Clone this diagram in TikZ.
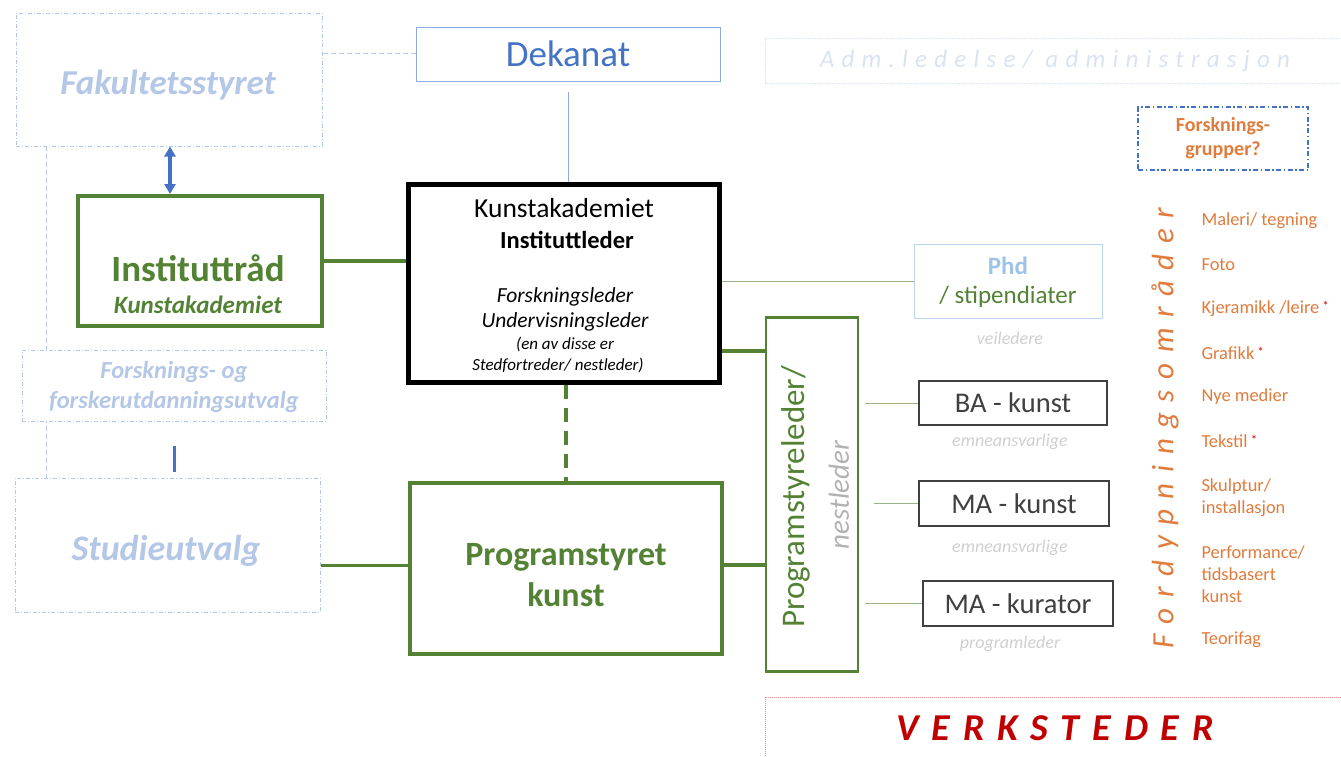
\documentclass[tikz,border=0pt]{standalone}
\usepackage{fontspec}
\setmainfont{Carlito}
\usetikzlibrary{arrows.meta}
\definecolor{kgreen}{HTML}{548235}
\definecolor{kblue}{HTML}{4472C4}
\definecolor{paleblue}{HTML}{B4C7E7}
\definecolor{faintblue}{HTML}{DAE3F3}
\definecolor{phdblue}{HTML}{9DC3E6}
\definecolor{korange}{HTML}{E07B3C}
\definecolor{kred}{HTML}{C00000}
\definecolor{pinkred}{HTML}{F08A96}
\definecolor{subgray}{HTML}{CFCFCF}
\newcommand{\fs}[1]{\fontsize{#1}{1.2\dimexpr#1pt\relax}\selectfont}
\newcommand{\redstar}{\,\textcolor{red!80!black}{\raisebox{0.35ex}{\fs{13}*}}}
\begin{document}
\begin{tikzpicture}[x=1pt,y=-1pt,
    box/.style={draw,rectangle,inner sep=0pt,align=center},
    palebox/.style={box,paleblue,line width=1pt,dash pattern=on 4pt off 2pt on 1pt off 2pt,fill=white},
    paletext/.style={paleblue,align=center,font=\fs{#1}\bfseries\itshape},
    greenbox/.style={box,kgreen,line width=4pt},
    progbox/.style={box,black!75,line width=1.2pt,font=\fs{28.5}},
    sublabel/.style={subgray,font=\fs{18}\itshape},
    fordyp/.style={korange,anchor=west,align=left,font=\fs{18.4}}]
    \useasboundingbox (0,0) rectangle (1341,756);
    \draw[paleblue,line width=1pt,dash pattern=on 5pt off 3pt] (46,146) -- (46,478);
    \node[palebox,minimum width=306pt,minimum height=133pt] (fak) at (169,79.5) {};
    \node[paletext=35] (faktxt) at (168,85) {Fakultetsstyret};
    \node[box,kblue!60,line width=0.8pt,minimum width=304pt,minimum height=54pt,text=kblue,font=\fs{37}] (dek) at (568,54) {Dekanat};
    \node[box,faintblue,line width=0.8pt,densely dotted,minimum width=580pt,minimum height=45pt,text=faintblue,font=\fs{25}\itshape\addfontfeature{LetterSpace=29}] (adm) at (1055,60.5) {Adm.ledelse/ administrasjon};
    \node[box,kblue,line width=1.3pt,dash pattern=on 5pt off 2.5pt on 1.5pt off 2.5pt,minimum width=170pt,minimum height=63pt,text=korange,font=\fs{20}\bfseries] (fgr) at (1223,138.5) {Forsknings-\\grupper?};
    \node[greenbox,minimum width=244pt,minimum height=130pt] (inst) at (200,261) {};
    \node[kgreen,font=\fs{37}\bfseries] (insttxt) at (198,268) {Instituttråd};
    \node[kgreen,font=\fs{25}\bfseries\itshape] (instsub) at (198,305) {Kunstakademiet};
    \node[box,black,line width=5pt,minimum width=311pt,minimum height=198pt] (kunst) at (563.5,283) {};
    \node[font=\fs{27.5}] (k1) at (564,208) {Kunstakademiet};
    \node[font=\fs{24.5}\bfseries] (k2) at (567,240) {Instituttleder};
    \node[font=\fs{21.5}\itshape] (k3) at (565,297) {Forskningsleder};
    \node[font=\fs{21.5}\itshape] (k4) at (565,322) {Undervisningsleder};
    \node[font=\fs{17}\itshape] (k5) at (565,344) {(en av disse er};
    \node[font=\fs{17}\itshape] (k6) at (558,365) {Stedfortreder/ nestleder)};
    \node[box,phdblue!70,line width=1pt,minimum width=188pt,minimum height=74pt] (phd) at (1008,281) {};
    \node[phdblue,font=\fs{25}\bfseries] (phd1) at (1008,266) {Phd};
    \node[kgreen,font=\fs{25}] (phd2) at (1008,297) {/ stipendiater};
    \node[palebox,minimum width=304pt,minimum height=71pt] (futv) at (174,385.5) {};
    \node[paletext=24.5] (futvtxt) at (174,387) {Forsknings- og\\forskerutdanningsutvalg};
    \node[box,kgreen,line width=2.5pt,minimum width=92pt,minimum height=354pt] (psl) at (812,494.5) {};
    \node[kgreen,rotate=90,font=\fs{33}] (psl1) at (796,497) {Programstyreleder/};
    \node[black!30,rotate=90,font=\fs{29}\itshape] (psl2) at (839,495) {nestleder};
    \node[progbox,minimum width=188pt,minimum height=44pt] (ba) at (1013,403) {BA - kunst};
    \node[progbox,minimum width=190pt,minimum height=45pt] (mak) at (1014,503.5) {MA - kunst};
    \node[progbox,minimum width=190pt,minimum height=45pt] (makur) at (1018,603.5) {MA - kurator};
    \node[palebox,minimum width=305pt,minimum height=134pt] (stud) at (167.5,545) {};
    \node[paletext=36] (studtxt) at (166,551) {Studieutvalg};
    \node[greenbox,minimum width=312pt,minimum height=171pt] (prog) at (566,568.5) {};
    \node[kgreen,align=center,font=\fs{34}\bfseries] (progtxt) at (566,575) {Programstyret\\kunst};
    \node[box,pinkred,line width=1pt,densely dotted,minimum width=580pt,minimum height=62pt,text=kred,font=\fs{38}\bfseries\itshape\addfontfeature{LetterSpace=34}] (verk) at (1055,728) {VERKSTEDER};
    \node[sublabel] (vei) at (1010,338) {veiledere};
    \node[sublabel] (emba) at (1010,442) {emneansvarlige};
    \node[sublabel] (emma) at (1010,548) {emneansvarlige};
    \node[sublabel] (prl) at (1010,644) {programleder};
    \node[korange,rotate=90,font=\fs{31}\itshape\addfontfeature{LetterSpace=34}] (fomr) at (1165,428) {Fordypningsområder};
    \node[fordyp] (i1) at (1198,221) {Maleri/ tegning};
    \node[fordyp] (i2) at (1198,265) {Foto};
    \node[fordyp] (i3) at (1198,309) {Kjeramikk /leire\redstar};
    \node[fordyp] (i4) at (1198,353) {Grafikk\redstar};
    \node[fordyp] (i5) at (1198,397) {Nye medier};
    \node[fordyp] (i6) at (1198,441) {Tekstil\redstar};
    \node[fordyp] (i7) at (1198,497.5) {Skulptur/\\installasjon};
    \node[fordyp] (i8) at (1198,574) {Performance/\\tidsbasert\\kunst};
    \node[fordyp] (i9) at (1198,640) {Teorifag};
    \draw[paleblue,line width=1pt,dash pattern=on 5pt off 3pt] (fak.east |- 0,53) -- (dek.west |- 0,53);
    \draw[kblue!60,line width=0.8pt,shorten <=11pt] (dek.south) -- (dek.south |- kunst.north);
    \draw[<->,>={Triangle[length=10pt,width=11pt]},kblue,line width=3.5pt] (fak.south -| 170,0) -- (inst.north -| 170,0);
    \draw[kgreen,line width=4pt] (inst.east) -- (inst.east -| kunst.west);
    \draw[kgreen,line width=4pt,dash pattern=on 14pt off 9pt] (kunst.south -| 566,0) -- (prog.north -| 566,0);
    \draw[kblue,line width=3pt,shorten <=24pt,shorten >=6pt] (futv.south) -- (stud.north -| futv.south);
    \draw[kgreen,line width=3pt] (stud.east |- 0,565) -- (prog.west |- 0,565);
    \draw[kgreen!60,line width=1pt] (kunst.east |- phd.west) -- (phd.west);
    \draw[kgreen,line width=4pt] (kunst.east |- 0,351) -- (psl.west |- 0,351);
    \draw[kgreen,line width=4pt] (prog.east |- 0,565) -- (psl.west |- 0,565);
    \draw[kgreen!60,line width=1pt,shorten <=6pt] (psl.east |- ba.west) -- (ba.west);
    \draw[kgreen!60,line width=1pt,shorten <=15pt] (psl.east |- mak.west) -- (mak.west);
    \draw[kgreen!60,line width=1pt,shorten <=6pt] (psl.east |- makur.west) -- (makur.west);
\end{tikzpicture}
\end{document}
